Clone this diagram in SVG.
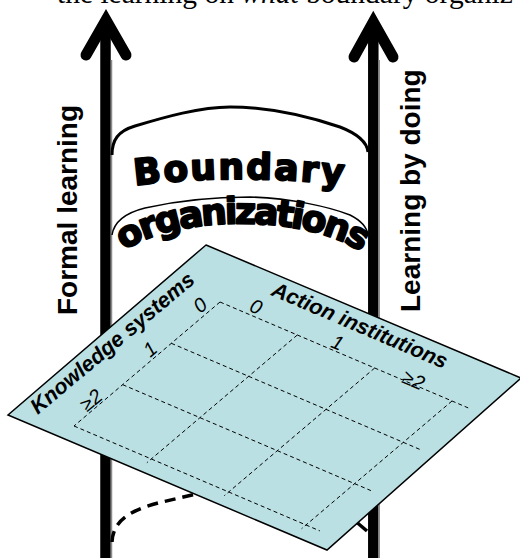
<svg xmlns="http://www.w3.org/2000/svg" xmlns:xlink="http://www.w3.org/1999/xlink" width="520" height="558" viewBox="0 0 520 558">
<style>
.cap{font-family:"Liberation Serif","Times New Roman",serif;font-size:29.5px;fill:#000}
.side{font-family:"Liberation Sans",Arial,sans-serif;font-size:28px;font-weight:bold;fill:#000}
.wa{font-family:"DejaVu Sans","Liberation Sans",sans-serif;font-weight:bold;fill:#000;stroke:#000;stroke-width:2;stroke-linejoin:round}
.axis{font-family:"Liberation Sans",Arial,sans-serif;font-size:21.5px;font-weight:bold;font-style:italic;fill:#000}
.num{font-family:"Liberation Sans",Arial,sans-serif;font-size:20px;font-style:italic;fill:#000}
.shaft{stroke:#000;stroke-width:10.5;fill:none}
.shade{stroke:#8a8a8a;stroke-width:1.5;fill:none}
.head{stroke:#000;stroke-width:11;fill:none;stroke-linecap:round;stroke-linejoin:miter;stroke-miterlimit:10}
.grid{stroke:#000;stroke-width:1;stroke-dasharray:4 3;fill:none}
.under{stroke:#000;stroke-width:3.5;fill:none}
</style>
<defs>
<path id="arcB" d="M130,186 Q240,172 350,186"/>
<path id="arcO" d="M110,264 C150,210 330,210 374,264"/>
</defs>
<rect width="520" height="558" fill="#fff"/>
<text class="cap" x="57" y="2.5">the learning on <tspan font-style="italic">what</tspan> boundary organiz</text>
<g id="formal-arrow">
<line class="shaft" x1="105.5" y1="22" x2="105.5" y2="558"/>
<line class="shade" x1="111.5" y1="60" x2="111.5" y2="558"/>
<polyline class="head" points="86,55 106,20 126,55"/>
</g>
<g id="doing-arrow">
<line class="shaft" x1="373.3" y1="24" x2="373.3" y2="558"/>
<line class="shade" x1="379.2" y1="60" x2="379.2" y2="558"/>
<polyline class="head" points="354,57 373.3,22 393,57"/>
</g>
<g id="connectors">
<path d="M112,155 C112,140 118,131 135,126 C165,117 200,107 230,107 C270,107 310,117 340,127 C358,134 367,142 368,152" fill="none" stroke="#000" stroke-width="3"/>
<path d="M112,235 C114,222 125,213 145,208 C180,200 220,197 250,197 C290,198 330,207 350,215 C362,221 367,228 368,235" fill="none" stroke="#000" stroke-width="1.5"/>
<path class="under" d="M112,542 C113,522 128,511 158,503 L196,494" stroke-dasharray="11 7"/>
<line class="under" x1="354" y1="520" x2="367" y2="531"/>
</g>
<g id="boundary-organizations">
<text class="wa" font-size="36" letter-spacing="2" text-anchor="middle"><textPath xlink:href="#arcB" href="#arcB" startOffset="50%">Boundary</textPath></text>
<text class="wa" font-size="36" letter-spacing="-2.5" text-anchor="middle"><textPath xlink:href="#arcO" href="#arcO" startOffset="50%">organizations</textPath></text>
</g>
<g id="plane">
<polygon points="206,245 521,378 327,550 8,415" fill="#bae0e3" stroke="#000" stroke-width="1.5" stroke-linejoin="miter"/>
<g class="grid">
<line x1="220" y1="302" x2="468.2" y2="407.9"/>
<line x1="171.3" y1="343.3" x2="419.6" y2="449.3"/>
<line x1="122.7" y1="384.7" x2="370.9" y2="490.6"/>
<line x1="74" y1="426" x2="319.9" y2="530.9"/>
<line x1="220" y1="302" x2="74" y2="426"/>
<line x1="297.3" y1="335" x2="146.9" y2="462.7"/>
<line x1="374.7" y1="368" x2="224.3" y2="495.7"/>
<line x1="452" y1="401" x2="301.6" y2="528.7"/>
</g>
</g>
<g id="knowledge-systems">
<text class="axis" text-anchor="middle" transform="translate(117,348.5) rotate(-40)">Knowledge systems</text>
<text class="num" text-anchor="middle" transform="translate(204.5,310.4) rotate(-40)">0</text>
<text class="num" text-anchor="middle" transform="translate(154.5,354.4) rotate(-40)">1</text>
<text class="num" text-anchor="middle" transform="translate(95.5,405.4) rotate(-40)">≥2</text>
</g>
<g id="action-institutions">
<text class="axis" text-anchor="middle" transform="translate(357,332) rotate(23.1)">Action institutions</text>
<text class="num" text-anchor="middle" transform="translate(253.3,313) rotate(23.1)">0</text>
<text class="num" text-anchor="middle" transform="translate(334.8,349) rotate(23.1)">1</text>
<text class="num" text-anchor="middle" transform="translate(410.8,386.4) rotate(23.1)">≥2</text>
</g>
<g id="formal-learning">
<text class="side" transform="translate(77,315) rotate(-90)">Formal learning</text>
</g>
<g id="learning-by-doing">
<text class="side" transform="translate(420,312) rotate(-90)">Learning by doing</text>
</g>
</svg>
